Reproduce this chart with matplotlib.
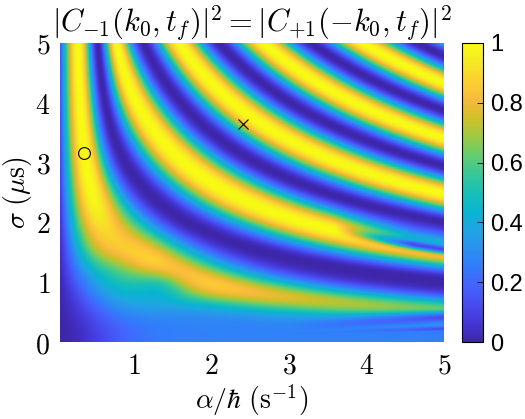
import numpy as np
import matplotlib
matplotlib.use('Agg')
from matplotlib import pyplot as plt
from matplotlib.colors import LinearSegmentedColormap

# axis ranges and ticks
alpha_lim = [0.04, 5.0]
sigma_lim = [0.0, 5.0]
x_ticks = [1, 2, 3, 4, 5]
y_ticks = [0, 1, 2, 3, 4, 5]
cbar_ticks = [0, 0.2, 0.4, 0.6, 0.8, 1]
cbar_labels = ['0', '0.2', '0.4', '0.6', '0.8', '1']

# fringe positions (order counted in units of pi/2)
fringe_alpha = [1.17, 1.68, 2.20, 2.79, 3.40, 4.05, 4.74,
                4.95, 4.95, 4.95, 4.95, 4.95, 4.95, 4.95, 4.95, 4.95,
                1.16, 2.07, 3.15, 4.50, 2.40, 2.63, 1.76, 3.05]
fringe_sigma = [4.95, 4.95, 4.95, 4.95, 4.95, 4.95, 4.95,
                4.89, 4.45, 3.97, 3.49, 2.97, 2.54, 2.05, 1.37, 1.10,
                2.50, 2.50, 2.50, 2.50, 3.65, 2.00, 1.05, 0.79]
fringe_order = [4, 5, 6, 7, 8, 9, 10,
                10, 9, 8, 7, 6, 5, 4, 3, 2,
                2, 3, 4, 5, 5, 3, 1, 1]

# markers
circle_pt = (0.35, 3.16)
cross_pt = (2.40, 3.65)

# parula (R2017a), every 4th entry
parula = [
    (0.2422, 0.1504, 0.6603), (0.2706, 0.2147, 0.8364), (0.2813, 0.3006, 0.9414),
    (0.2699, 0.3892, 0.9906), (0.1963, 0.4847, 0.9892), (0.1687, 0.5703, 0.9359),
    (0.1248, 0.6459, 0.8883), (0.0297, 0.7082, 0.8163), (0.0964, 0.7500, 0.7120),
    (0.2161, 0.7843, 0.5923), (0.3909, 0.8029, 0.4354), (0.6174, 0.7876, 0.2612),
    (0.8203, 0.7498, 0.1535), (0.9728, 0.7298, 0.2394), (0.9892, 0.8136, 0.1885),
    (0.9597, 0.9135, 0.1423), (0.9769, 0.9839, 0.0805),
]
cmap = LinearSegmentedColormap.from_list('parula', parula, N=256)

# fit the fringe phase  k = C * alpha^a * sigma^b
A = np.column_stack([np.ones(len(fringe_order)), np.log(fringe_alpha), np.log(fringe_sigma)])
coef, *_ = np.linalg.lstsq(A, np.log(fringe_order), rcond=None)
C, pa, pb = np.exp(coef[0]), coef[1], coef[2]

al = np.linspace(alpha_lim[0], alpha_lim[1], 500)
sg = np.linspace(1e-3, sigma_lim[1], 500)
AL, SG = np.meshgrid(al, sg)


def sigm(x):
    return 1 / (1 + np.exp(-x))


sat = 1.0 / (1.0 + SG**2 / 29.0 * np.exp(-AL**2 / 0.21))
k = C * AL**pa * SG**pb * sat
s = np.sin(np.pi * k / 2)**2

env = 1 - (1 - (0.9 - 0.06 * AL)) * np.exp(-(SG / 1.1)**4)
env *= 1 - 0.35 * np.exp(-((AL - 1.3) / 0.4)**2 - ((SG - 0.9) / 0.3)**2)
env *= 1 - 0.12 * np.exp(-((AL - 0.8) / 0.4)**2 - ((SG - 1.8) / 0.5)**2)
env *= 1 - 0.2 * np.exp(-((AL - 0.75) / 0.45)**2 - ((SG - 1.15) / 0.35)**2)

# below the lowest fringe: sharper fall-off onto a light floor
floor = 0.27 * (1 - np.exp(-(AL / 0.8)**2))
gam = 1 + 2.0 * sigm((AL - 1.4) / 0.25)
low = floor + (env - floor) * s**gam
# faint extra stripes in the lower right corner
k2 = 0.17 * AL / SG
depth = 0.75 * np.clip((AL - 3.0) / 2.0, 0, 1)
win = np.exp(-((SG - 0.34) / 0.17)**4)
low *= 1 - depth * win * np.cos(np.pi * k2 / 2)**2

# above it: narrower fringes near the bottom, split third fringe on the right
gup = 1 + 1.2 * np.exp(-(SG / 1.3)**4) * sigm((AL - 1.4) / 0.25)
high = env * s**np.where(k < 2, gup, 1.0)
ramp = np.clip((AL - 3.6) / 1.0, 0, 1)
high *= 1 - 0.85 * ramp * np.exp(-((k - 3.05) / 0.16)**2)
high *= 1 - 0.45 * ramp * sigm((k - 3.05) / 0.08) * sigm((3.9 - k) / 0.08)

P = np.where(k < 1, low, high)
P = np.clip(P, 0, 1)

plt.rcParams['mathtext.fontset'] = 'cm'

fig = plt.figure(figsize=(5.25, 4.19), dpi=100)
ax = fig.add_axes([60 / 525, 77 / 419, 384 / 525, 299 / 419])
im = ax.imshow(P, origin='lower', aspect='auto', cmap=cmap, vmin=0, vmax=1,
               extent=[alpha_lim[0], alpha_lim[1], sigma_lim[0], sigma_lim[1]],
               interpolation='bilinear')
ax.plot(*circle_pt, 'o', mfc='none', mec='k', ms=8.5, mew=0.8)
ax.plot(*cross_pt, 'x', color='k', ms=7, mew=0.8)

ax.set_xlim(alpha_lim)
ax.set_ylim(sigma_lim)
ax.set_xticks(x_ticks)
ax.set_xticklabels([f'${t}$' for t in x_ticks], fontsize=20)
ax.set_yticks(y_ticks)
ax.set_yticklabels([f'${t}$' for t in y_ticks], fontsize=20)
ax.tick_params(length=0, pad=7)
for sp in ax.spines.values():
    sp.set_visible(False)

ax.set_xlabel(r'$\alpha/\hbar\ (\mathrm{s}^{-1})$', fontsize=20, labelpad=2)
ax.set_ylabel(r'$\sigma\ (\mu\mathrm{s})$', fontsize=20, labelpad=1)
ax.set_title(r'$|C_{-1}(k_0,t_f)|^2=|C_{+1}(-k_0,t_f)|^2$', fontsize=22, pad=5)

cax = fig.add_axes([462 / 525, 77 / 419, 21 / 525, 299 / 419])
cb = fig.colorbar(im, cax=cax, ticks=cbar_ticks)
cb.ax.set_yticklabels(cbar_labels, family='Liberation Sans', fontsize=17)
cb.ax.tick_params(direction='in', length=4, width=0.6, pad=5)
cb.outline.set_linewidth(0.8)

fig.savefig('out.png', dpi=100)
